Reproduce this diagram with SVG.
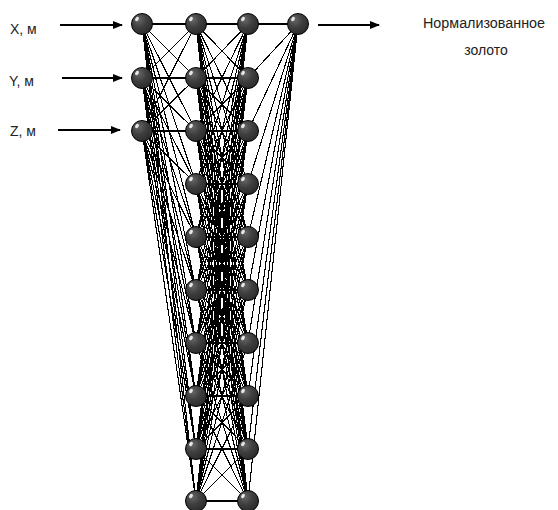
<svg xmlns="http://www.w3.org/2000/svg" width="558" height="510" viewBox="0 0 558 510">
<style>
.lbl{font-family:"Liberation Sans","DejaVu Sans",sans-serif;font-size:14px;fill:#222}
.w{stroke:#000;stroke-width:1.1;fill:none;shape-rendering:crispEdges}
.arr{stroke:#000;stroke-width:2;fill:none}
.n{fill:url(#g);stroke:#000;stroke-width:1}
.hl{fill:#fff;opacity:0.85}
</style>
<defs>
<radialGradient id="g" cx="0.35" cy="0.3" r="0.75">
<stop offset="0" stop-color="#666"/>
<stop offset="0.5" stop-color="#3e3e3e"/>
<stop offset="1" stop-color="#2a2a2a"/>
</radialGradient>
<marker id="ah" markerWidth="10" markerHeight="8" refX="9" refY="4" orient="auto" markerUnits="userSpaceOnUse">
<path d="M0 0L10 4L0 8Z" fill="#000"/>
</marker>
<symbol id="node" overflow="visible">
<circle class="n" cx="0" cy="0" r="10.5"/>
<ellipse class="hl" cx="-5" cy="-5" rx="1.6" ry="2.4" transform="rotate(35 -5 -5)"/>
</symbol>
</defs>
<rect width="558" height="510" fill="#fff"/>
<g id="connectors">
<path class="w" d="M142 24L196 24M142 24L196 78M142 24L196 131M142 24L196 184M142 24L196 237M142 24L196 290M142 24L196 343M142 24L196 396M142 24L196 449M142 24L196 501"/>
<path class="w" d="M142 78L196 24M142 78L196 78M142 78L196 131M142 78L196 184M142 78L196 237M142 78L196 290M142 78L196 343M142 78L196 396M142 78L196 449M142 78L196 501"/>
<path class="w" d="M142 131L196 24M142 131L196 78M142 131L196 131M142 131L196 184M142 131L196 237M142 131L196 290M142 131L196 343M142 131L196 396M142 131L196 449M142 131L196 501"/>
<path class="w" d="M196 24L248 24M196 24L248 78M196 24L248 131M196 24L248 184M196 24L248 237M196 24L248 290M196 24L248 343M196 24L248 396M196 24L248 449M196 24L248 501"/>
<path class="w" d="M196 78L248 24M196 78L248 78M196 78L248 131M196 78L248 184M196 78L248 237M196 78L248 290M196 78L248 343M196 78L248 396M196 78L248 449M196 78L248 501"/>
<path class="w" d="M196 131L248 24M196 131L248 78M196 131L248 131M196 131L248 184M196 131L248 237M196 131L248 290M196 131L248 343M196 131L248 396M196 131L248 449M196 131L248 501"/>
<path class="w" d="M196 184L248 24M196 184L248 78M196 184L248 131M196 184L248 184M196 184L248 237M196 184L248 290M196 184L248 343M196 184L248 396M196 184L248 449M196 184L248 501"/>
<path class="w" d="M196 237L248 24M196 237L248 78M196 237L248 131M196 237L248 184M196 237L248 237M196 237L248 290M196 237L248 343M196 237L248 396M196 237L248 449M196 237L248 501"/>
<path class="w" d="M196 290L248 24M196 290L248 78M196 290L248 131M196 290L248 184M196 290L248 237M196 290L248 290M196 290L248 343M196 290L248 396M196 290L248 449M196 290L248 501"/>
<path class="w" d="M196 343L248 24M196 343L248 78M196 343L248 131M196 343L248 184M196 343L248 237M196 343L248 290M196 343L248 343M196 343L248 396M196 343L248 449M196 343L248 501"/>
<path class="w" d="M196 396L248 24M196 396L248 78M196 396L248 131M196 396L248 184M196 396L248 237M196 396L248 290M196 396L248 343M196 396L248 396M196 396L248 449M196 396L248 501"/>
<path class="w" d="M196 449L248 24M196 449L248 78M196 449L248 131M196 449L248 184M196 449L248 237M196 449L248 290M196 449L248 343M196 449L248 396M196 449L248 449M196 449L248 501"/>
<path class="w" d="M196 501L248 24M196 501L248 78M196 501L248 131M196 501L248 184M196 501L248 237M196 501L248 290M196 501L248 343M196 501L248 396M196 501L248 449M196 501L248 501"/>
<path class="w" d="M298 24L248 24M298 24L248 78M298 24L248 131M298 24L248 184M298 24L248 237M298 24L248 290M298 24L248 343M298 24L248 396M298 24L248 449M298 24L248 501"/>
<path class="arr" marker-end="url(#ah)" d="M60 25L122 25"/>
<path class="arr" marker-end="url(#ah)" d="M62 78L122 78"/>
<path class="arr" marker-end="url(#ah)" d="M58 130L120 130"/>
<path class="arr" marker-end="url(#ah)" d="M318 25L379 25"/>
</g>
<g id="in-x"><use href="#node" x="142" y="24"/><text class="lbl" x="10" y="34">X, м</text></g>
<g id="in-y"><use href="#node" x="142" y="78"/><text class="lbl" x="9" y="86">Y, м</text></g>
<g id="in-z"><use href="#node" x="142" y="131"/><text class="lbl" x="10" y="136">Z, м</text></g>
<g id="h1-1"><use href="#node" x="196" y="24"/></g>
<g id="h1-2"><use href="#node" x="196" y="78"/></g>
<g id="h1-3"><use href="#node" x="196" y="131"/></g>
<g id="h1-4"><use href="#node" x="196" y="184"/></g>
<g id="h1-5"><use href="#node" x="196" y="237"/></g>
<g id="h1-6"><use href="#node" x="196" y="290"/></g>
<g id="h1-7"><use href="#node" x="196" y="343"/></g>
<g id="h1-8"><use href="#node" x="196" y="396"/></g>
<g id="h1-9"><use href="#node" x="196" y="449"/></g>
<g id="h1-10"><use href="#node" x="196" y="501"/></g>
<g id="h2-1"><use href="#node" x="248" y="24"/></g>
<g id="h2-2"><use href="#node" x="248" y="78"/></g>
<g id="h2-3"><use href="#node" x="248" y="131"/></g>
<g id="h2-4"><use href="#node" x="248" y="184"/></g>
<g id="h2-5"><use href="#node" x="248" y="237"/></g>
<g id="h2-6"><use href="#node" x="248" y="290"/></g>
<g id="h2-7"><use href="#node" x="248" y="343"/></g>
<g id="h2-8"><use href="#node" x="248" y="396"/></g>
<g id="h2-9"><use href="#node" x="248" y="449"/></g>
<g id="h2-10"><use href="#node" x="248" y="501"/></g>
<g id="out"><use href="#node" x="298" y="24"/>
<text class="lbl" x="484" y="28" text-anchor="middle" textLength="122" lengthAdjust="spacingAndGlyphs">Нормализованное</text>
<text class="lbl" x="486" y="55" text-anchor="middle">золото</text></g>
</svg>
